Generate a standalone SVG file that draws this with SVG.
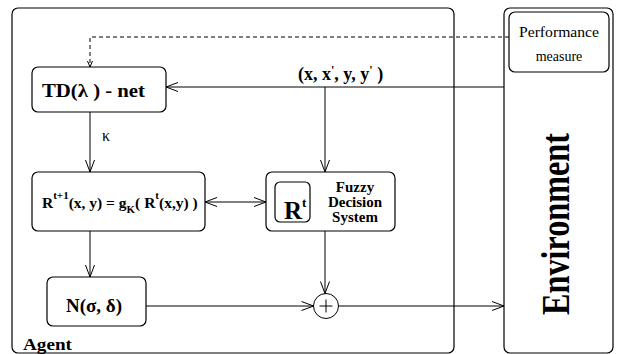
<svg xmlns="http://www.w3.org/2000/svg" width="621" height="354" viewBox="0 0 621 354">
<defs>
<style>
.box{fill:#fff;stroke:#000;stroke-width:1.2}
.frame{fill:none;stroke:#000;stroke-width:1.2}
.ln{fill:none;stroke:#000;stroke-width:1}
.b{font-weight:bold}
</style>
<marker id="ah" viewBox="-13 -6 14 12" refX="0" refY="0" markerWidth="14" markerHeight="12" markerUnits="userSpaceOnUse" orient="auto-start-reverse">
<path d="M-12,-4.5 L0,0 L-12,4.5" fill="none" stroke="#000" stroke-width="1"/>
</marker>
<marker id="ahs" viewBox="-7 -4 8 8" refX="0" refY="0" markerWidth="8" markerHeight="8" markerUnits="userSpaceOnUse" orient="auto">
<path d="M-6,-2.5 L0,0 L-6,2.5" fill="none" stroke="#000" stroke-width="1"/>
</marker>
</defs>
<rect width="621" height="354" fill="#fff"/>
<g id="agent">
<rect class="frame" x="12" y="8" width="442" height="345" rx="6"/>
<text class="b" font-family="Liberation Serif" x="23" y="350" font-size="17" textLength="49" lengthAdjust="spacingAndGlyphs">Agent</text>
</g>
<g id="environment">
<rect class="frame" x="504" y="8" width="109" height="345" rx="6"/>
<text class="b" font-family="Liberation Serif" transform="translate(569,224) rotate(-90)" text-anchor="middle" font-size="39" textLength="182" lengthAdjust="spacingAndGlyphs">Environment</text>
</g>
<g id="performance">
<rect class="box" x="509" y="12" width="100" height="60" rx="6"/>
<text font-family="Liberation Serif" x="559" y="37" text-anchor="middle" font-size="14" textLength="80" lengthAdjust="spacingAndGlyphs">Performance</text>
<text font-family="Liberation Serif" x="559" y="61" text-anchor="middle" font-size="14">measure</text>
</g>
<g id="tdnet">
<rect class="box" x="32" y="67" width="134" height="45" rx="6"/>
<text class="b" font-family="Liberation Serif" x="42" y="97" font-size="18" textLength="103" lengthAdjust="spacingAndGlyphs">TD(λ )  - net</text>
</g>
<g id="rupdate">
<rect class="box" x="32" y="172" width="173" height="59" rx="6"/>
<text class="b" font-family="Liberation Serif" x="42" y="208" font-size="15.5">R<tspan font-size="11" dy="-9">t+1</tspan><tspan dy="9">(x, y) = g</tspan><tspan font-size="11" dy="5">K</tspan><tspan dy="-5">( R</tspan><tspan font-size="11" dy="-9">t</tspan><tspan dy="9">(x,y) )</tspan></text>
</g>
<g id="fuzzy">
<rect class="box" x="266" y="172" width="129" height="59" rx="6"/>
<rect class="box" x="275" y="182" width="35" height="40" rx="5"/>
<text class="b" font-family="Liberation Serif" x="284" y="219" font-size="25">R<tspan font-size="13" dy="-12">t</tspan></text>
<text class="b" font-family="Liberation Serif" x="355" y="192" text-anchor="middle" font-size="15">Fuzzy</text>
<text class="b" font-family="Liberation Serif" x="355" y="207" text-anchor="middle" font-size="15">Decision</text>
<text class="b" font-family="Liberation Serif" x="355" y="222" text-anchor="middle" font-size="15">System</text>
</g>
<g id="noise">
<rect class="box" x="47" y="277" width="99" height="49" rx="6"/>
<text class="b" font-family="Liberation Serif" x="94" y="312" text-anchor="middle" font-size="19">N(σ, δ)</text>
</g>
<g id="sum">
<circle cx="326" cy="306" r="12.5" fill="#fff" stroke="#000" stroke-width="1"/>
<path d="M319.5,306 H332.5 M326,299.5 V312.5" stroke="#000" stroke-width="1"/>
</g>
<g id="connectors">
<path class="ln" d="M509,37 H90 V67" stroke-dasharray="4,3" marker-end="url(#ahs)"/>
<path class="ln" d="M504,87 H166" marker-end="url(#ah)"/>
<path class="ln" d="M325,87 V172" marker-end="url(#ah)"/>
<path class="ln" d="M90,112 V172" marker-end="url(#ah)"/>
<path class="ln" d="M205,202 H266" marker-start="url(#ah)" marker-end="url(#ah)"/>
<path class="ln" d="M90,231 V277" marker-end="url(#ah)"/>
<path class="ln" d="M325,231 V293.5" marker-end="url(#ah)"/>
<path class="ln" d="M146,306 H313.5" marker-end="url(#ah)"/>
<path class="ln" d="M338.5,306 H504" marker-end="url(#ah)"/>
<text font-family="Liberation Serif" x="102" y="141" font-size="16">κ</text>
<text class="b" font-family="Liberation Serif" x="298" y="80" font-size="18">(x, x<tspan font-size="12" dy="-6">'</tspan><tspan dy="6">, y, y</tspan><tspan font-size="12" dy="-6">'</tspan><tspan dy="6"> )</tspan></text>
</g>
</svg>
